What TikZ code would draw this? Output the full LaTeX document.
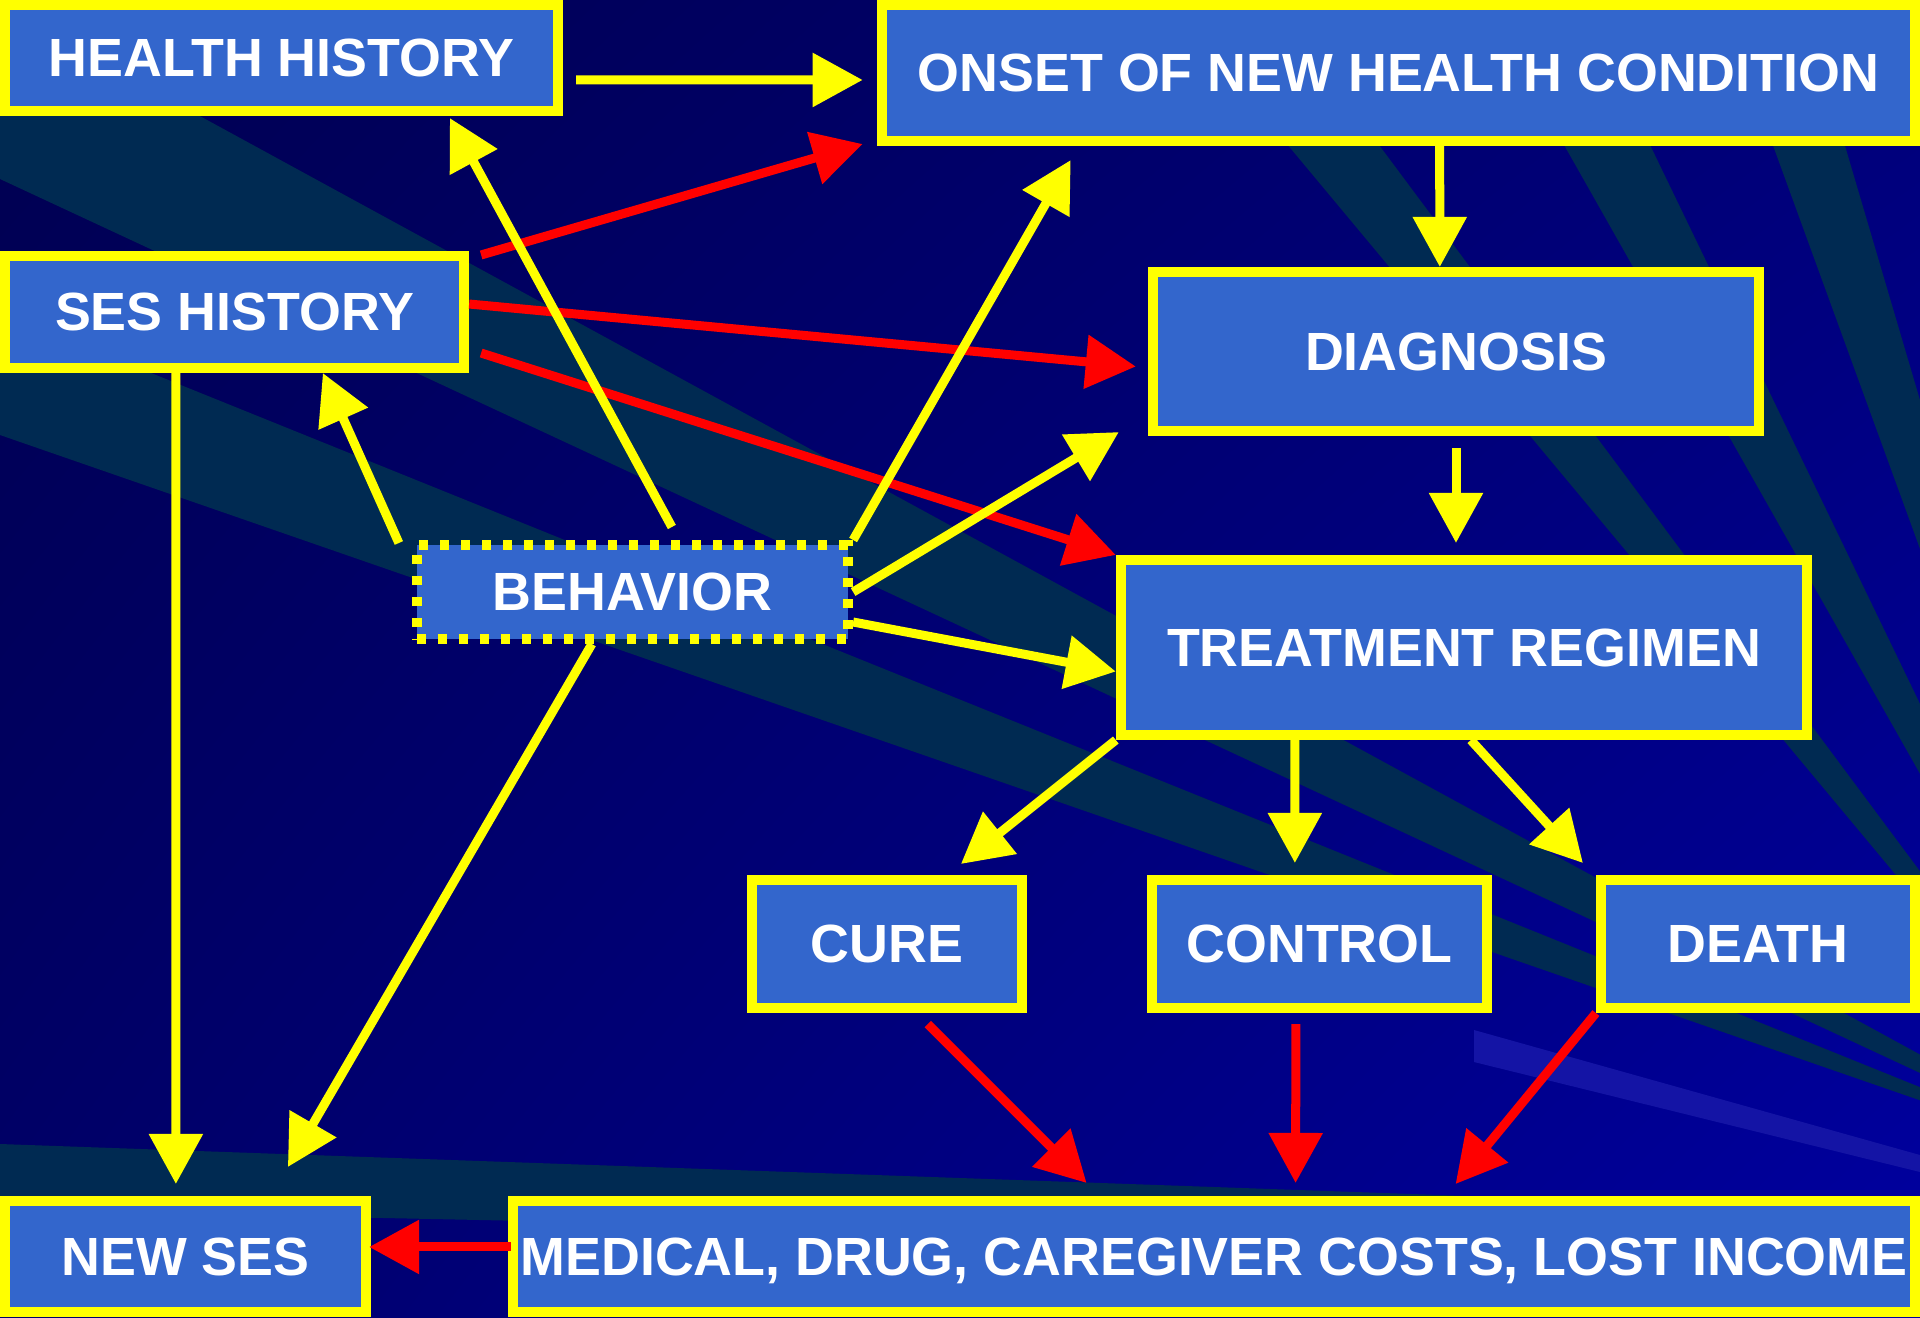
\documentclass[tikz,border=0pt]{standalone}
\usepackage{fontspec}
\setmainfont{Liberation Sans}
\usetikzlibrary{arrows.meta,calc,shadings}

\definecolor{scuro}{RGB}{0,0,80}
\definecolor{scuroR}{RGB}{0,0,120}
\definecolor{chiaroL}{RGB}{0,0,105}
\definecolor{chiaro}{RGB}{0,0,160}
\definecolor{fascio}{RGB}{0,42,82}
\definecolor{fascioL}{RGB}{20,20,165}
\definecolor{blu}{RGB}{51,102,204}
\definecolor{giallo}{RGB}{255,255,0}
\definecolor{rosso}{RGB}{255,0,0}

\begin{document}
\begin{tikzpicture}[x=0.01cm, y=-0.01cm,
    box/.style={draw=giallo, line width=0.1cm, fill=blu, text=white, inner sep=0pt, text depth=0pt, font=\fontsize{15.3}{18}\selectfont\bfseries},
    yarr/.style={draw=giallo, line width=0.09cm, -{Triangle[length=0.5cm,width=0.52cm]}},
    rarr/.style={yarr, draw=rosso}]
        \useasboundingbox (0,0) rectangle (1920,1317);
        \begin{scope}
        \clip (0,0) rectangle (1920,1317);
        \shade[upper left=scuro, upper right=scuroR, lower left=chiaroL, lower right=chiaro] (0,0) rectangle (1920,1317); % sfondo blu
        \fill[fascio] (2150,1180) -- (0,7) -- (0,179) -- cycle; % fasci di luce da sinistra
        \fill[fascio] (2150,1180) -- (0,312) -- (0,435) -- cycle;
        \fill[fascio] (2150,1180) -- (1167,0) -- (1271,0) -- cycle; % fasci dall'alto
        \fill[fascio] (2150,1180) -- (1482,0) -- (1580,0) -- cycle;
        \fill[fascio] (2150,1180) -- (1720,0) -- (1802,0) -- cycle;
        \fill[fascio] (0,1144) -- (1920,1212) -- (1920,1250) -- (0,1210) -- cycle; % fascia in basso
        \fill[fascioL] (1474,1030) -- (1920,1155) -- (1920,1172) -- (1474,1062) -- cycle;
        \end{scope}

        \node[box, minimum width=5.53cm, minimum height=1.06cm] (hh) at (281.5,58) {HEALTH HISTORY};
        \node[box, minimum width=10.33cm, minimum height=1.36cm] (onset) at (1398.5,73) {ONSET OF NEW HEALTH CONDITION};
        \node[box, minimum width=4.59cm, minimum height=1.12cm] (ses) at (234.5,312) {SES HISTORY};
        \node[box, minimum width=6.06cm, minimum height=1.59cm] (diag) at (1456,351.5) {DIAGNOSIS};
        \node[box, line width=0.1cm, dash pattern=on 0.09cm off 0.12cm, minimum width=4.31cm, minimum height=0.94cm] (beh) at (632.5,592) {BEHAVIOR}; % riquadro tratteggiato
        \node[box, minimum width=6.86cm, minimum height=1.75cm] (treat) at (1464,647.5) {TREATMENT REGIMEN};
        \node[box, minimum width=2.70cm, minimum height=1.28cm] (cure) at (887,944) {CURE};
        \node[box, minimum width=3.35cm, minimum height=1.28cm] (ctrl) at (1319.5,944) {CONTROL};
        \node[box, minimum width=3.14cm, minimum height=1.28cm] (death) at (1758,944) {DEATH};
        \node[box, minimum width=3.61cm, minimum height=1.11cm] (newses) at (185.5,1256.5) {NEW SES};
        \node[box, minimum width=14.02cm, minimum height=1.11cm] (cost) at (1214,1256.5) {MEDICAL, DRUG, CAREGIVER COSTS, LOST INCOME};

        \draw[rarr] ($(ses.north east)+(12,4)$) -- ($(onset.south west)+(-14,-2)$); % frecce rosse
        \draw[rarr] ($(ses.east)+(0,-8)$) -- ($(diag.west)+(-12,15)$);
        \draw[rarr] ($(ses.south east)+(12,-20)$) -- (treat.north west);
        \draw[rarr] ($(cost.north west)+(3,51)$) -- ($(newses.north east)+(-2,51)$);
        \draw[rarr] ($(cure.south west)+(181,11)$) -- ($(cost.north west)+(579,-13)$);
        \draw[rarr] ($(ctrl.south west)+(149,11)$) -- ($(cost.north west)+(788,-13)$);
        \draw[rarr] (death.south west) -- ($(cost.north west)+(948,-12)$);

        \draw[yarr] ($(hh.north east)+(13,80)$) -- ($(onset.north west)+(-14,80)$); % frecce gialle
        \draw[yarr] ($(beh.north west)+(260,-13)$) -- ($(hh.south west)+(450,2)$);
        \draw[yarr] ($(beh.north west)+(-13,3)$) -- ($(ses.south west)+(323,0)$);
        \draw[yarr] (beh.north east) -- ($(onset.south west)+(194,14)$);
        \draw[yarr] (beh.east) -- ($(diag.south west)+(-29,-4)$);
        \draw[yarr] ($(beh.east)+(0,30)$) -- ($(treat.west)+(0,24)$);
        \draw[yarr] ($(beh.south west)+(180,0)$) -- ($(newses.north west)+(288,-29)$);
        \draw[yarr] ($(ses.south west)+(176,0)$) -- ($(newses.north west)+(176,-12)$);
        \draw[yarr] ($(onset.south west)+(563,0)$) -- ($(diag.north west)+(292,0)$);
        \draw[yarr] ($(diag.south)+(0,12)$) -- ($(treat.north)+(-8,-12)$);
        \draw[yarr] (treat.south west) -- ($(cure.north west)+(214,-11)$);
        \draw[yarr] ($(treat.south west)+(179,0)$) -- ($(ctrl.north west)+(148,-12)$);
        \draw[yarr] ($(treat.south west)+(355,0)$) -- ($(death.north west)+(-13,-12)$);
    \end{tikzpicture}
\end{document}
